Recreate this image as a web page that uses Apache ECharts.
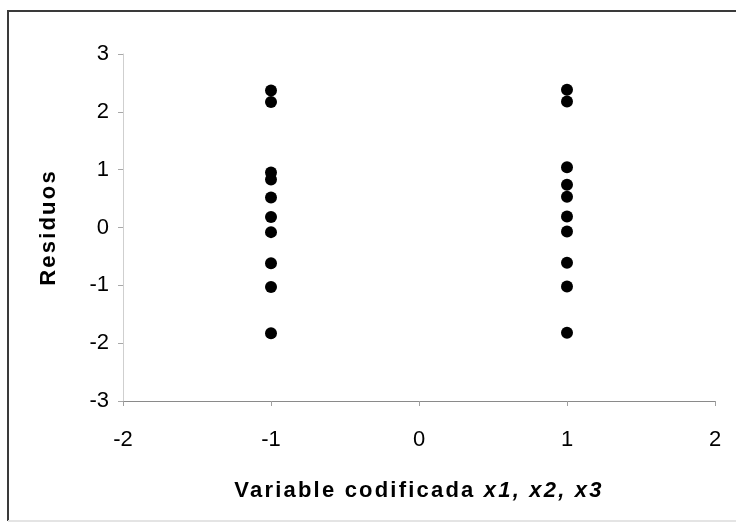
<!DOCTYPE html>
<html>
<head>
<meta charset="utf-8">
<script src="https://cdn.jsdelivr.net/npm/echarts@6/dist/echarts.min.js"></script>
<style>
  html, body { margin: 0; padding: 0; background: #fff; }
  #chart { width: 736px; height: 524px; }
</style>
</head>
<body>
<div id="chart"></div>
<script>
// Coded levels of the factor and the residuals observed at each level
const levelLow = -1;
const levelHigh = 1;
const residualsLow = [2.37, 2.17, 0.95, 0.83, 0.52, 0.18, -0.08, -0.62, -1.03, -1.83];
const residualsHigh = [2.38, 2.18, 1.04, 0.74, 0.53, 0.19, -0.07, -0.61, -1.02, -1.82];
const xTicks = [-2, -1, 0, 1, 2];
const yTicks = [-3, -2, -1, 0, 1, 2, 3];

const points = residualsLow.map(v => [levelLow, v])
  .concat(residualsHigh.map(v => [levelHigh, v]));

// Axis titles are set in spaced-out bold type: give bold text extra tracking,
// both when measuring (so layout accounts for it) and when drawing.
const TITLE_TRACKING = '2.2px';
const trackingFor = font => /bold/.test(font) ? TITLE_TRACKING : '0px';
const measureCtx = document.createElement('canvas').getContext('2d');
echarts.setPlatformAPI({
  measureText(text, font) {
    measureCtx.font = font || '12px sans-serif';
    measureCtx.letterSpacing = trackingFor(measureCtx.font);
    return measureCtx.measureText(text);
  }
});
const baseFillText = CanvasRenderingContext2D.prototype.fillText;
CanvasRenderingContext2D.prototype.fillText = function (text, x, y, maxWidth) {
  this.letterSpacing = trackingFor(this.font);
  return maxWidth === undefined
    ? baseFillText.call(this, text, x, y)
    : baseFillText.call(this, text, x, y, maxWidth);
};

const chart = echarts.init(document.getElementById('chart'), null, { renderer: 'canvas' });
const font = '"Liberation Sans", Arial, sans-serif';

chart.setOption({
  animation: false,
  backgroundColor: '#ffffff',
  grid: { left: 123, right: 21, top: 54, bottom: 123, containLabel: false },
  xAxis: {
    type: 'value',
    min: xTicks[0], max: xTicks[xTicks.length - 1], interval: 1,
    axisLine: { show: true, onZero: false, lineStyle: { color: '#8a8a8a', width: 1 } },
    axisTick: { show: true, inside: false, length: 5, lineStyle: { color: '#a0a0a0' } },
    splitLine: { show: false },
    axisLabel: { color: '#000', fontFamily: font, fontSize: 22, margin: 28 },
    name: '{n|Variable codificada }{i|x1, x2, x3}',
    nameLocation: 'middle',
    nameGap: 78,
    nameTextStyle: {
      rich: {
        n: { fontFamily: font, fontSize: 22, fontWeight: 'bold', color: '#000' },
        i: { fontFamily: font, fontSize: 22, fontWeight: 'bold', fontStyle: 'italic', color: '#000' }
      }
    }
  },
  yAxis: {
    type: 'value',
    min: yTicks[0], max: yTicks[yTicks.length - 1], interval: 1,
    axisLine: { show: true, onZero: false, lineStyle: { color: '#cfcfcf', width: 1 } },
    axisTick: { show: true, inside: false, length: 5, lineStyle: { color: '#a8a8a8' } },
    splitLine: { show: false },
    axisLabel: { color: '#000', fontFamily: font, fontSize: 22, margin: 14 },
    name: 'Residuos',
    nameLocation: 'middle',
    nameGap: 62,
    nameTextStyle: { fontFamily: font, fontSize: 22, fontWeight: 'bold', color: '#000' }
  },
  series: [{
    type: 'scatter',
    data: points,
    symbol: 'circle',
    symbolSize: 12,
    itemStyle: { color: '#000', opacity: 1 }
  }],
  graphic: [
    {
      type: 'polyline',
      shape: { points: [[8, 521], [8, 11], [740, 11]] },
      style: { fill: null, stroke: '#3a3a3a', lineWidth: 2 },
      silent: true
    },
    {
      type: 'line',
      shape: { x1: 8, y1: 521, x2: 740, y2: 521 },
      style: { stroke: '#e4e4e4', lineWidth: 2 },
      silent: true
    }
  ]
});
</script>
</body>
</html>
